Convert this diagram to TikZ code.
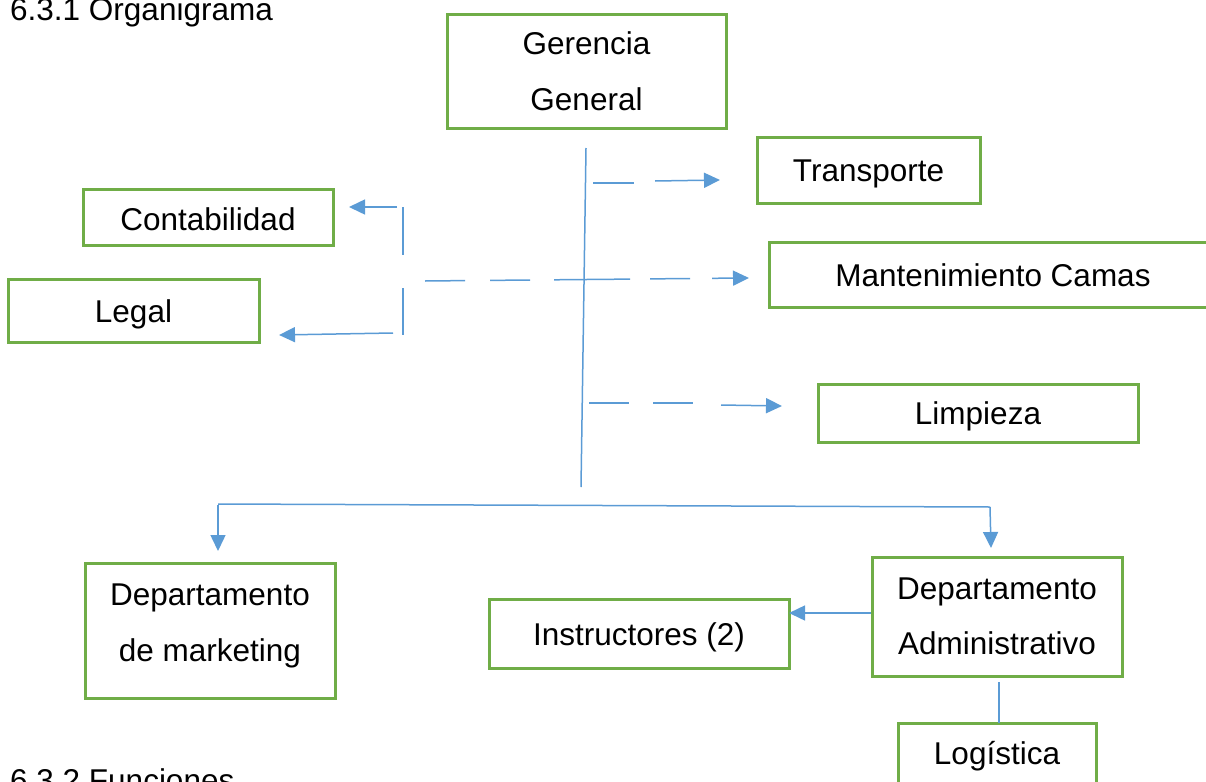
\documentclass[tikz,border=0pt]{standalone}
\usepackage{fontspec}
\setmainfont{Liberation Sans}
\usetikzlibrary{arrows.meta}
\definecolor{boxgreen}{HTML}{70AD47}
\definecolor{lineblue}{HTML}{5B9BD5}
\begin{document}
\begin{tikzpicture}[x=1pt,y=-1pt,
  every node/.style={font=\fontsize{31.5}{55.5}\selectfont},
  orgbox/.style={draw=boxgreen,line width=3pt,inner sep=0pt,align=center},
  oneline/.style={text height=23pt,text depth=0pt},
  conn/.style={draw=lineblue,line width=1.5pt},
  arr/.style={conn,-{Triangle[length=16pt,width=15pt]}}]
\useasboundingbox (0,0) rectangle (1206,781);
\clip (0,0) rectangle (1206,781);

% titles
\node[anchor=base west,inner sep=0pt] (t1) at (10,21) {6.3.1 Organigrama};
\node[anchor=base west,inner sep=0pt] (t2) at (10,791) {6.3.2 Funciones};

% boxes
\node[orgbox,minimum width=279pt,minimum height=113pt] (ger) at (586.5,71.5) {Gerencia\\[0.5pt]General};
\node[orgbox,oneline,minimum width=223pt,minimum height=66pt] (trans) at (868.5,170) {Transporte};
\node[orgbox,text height=27pt,text depth=0pt,minimum width=250pt,minimum height=56pt] (cont) at (208,217) {Contabilidad};
\node[orgbox,oneline,minimum width=448pt,minimum height=65pt] (mant) at (993,274.5) {Mantenimiento Camas};
\node[orgbox,oneline,minimum width=251pt,minimum height=63pt] (legal) at (133.5,310.5) {Legal};
\node[orgbox,oneline,minimum width=320pt,minimum height=58pt] (limp) at (978,413) {Limpieza};
\node[orgbox,minimum width=250pt,minimum height=135pt] (mkt) at (210,630.5) {Departamento\\de marketing\rule[-16pt]{0pt}{0pt}};
\node[orgbox,oneline,minimum width=300pt,minimum height=69pt] (instr) at (639,633.5) {Instructores (2)};
\node[orgbox,minimum width=250pt,minimum height=119pt] (adm) at (997,616.5) {Departamento\\Administrativo};
\node[orgbox,oneline,minimum width=198pt,minimum height=60pt] (log) at (997,753) {Logística};

% coordinates
\coordinate (trT) at (586,148);
\coordinate (trB) at (581,487);
% transporte
\coordinate (ta1) at (593,183); \coordinate (ta2) at (634,183);
\coordinate (ta3) at (655,181); \coordinate (ta4) at (720,180);
% mantenimiento
\coordinate (ma1) at (425,281); \coordinate (ma2) at (465,280.6);
\coordinate (ma3) at (490,280.4); \coordinate (ma4) at (530,280);
\coordinate (ma5) at (554,279.8); \coordinate (ma6) at (630,279.1);
\coordinate (ma7) at (650,278.9); \coordinate (ma8) at (690,278.5);
\coordinate (ma9) at (712,278.3); \coordinate (ma10) at (749,278);
% limpieza
\coordinate (li1) at (589,403); \coordinate (li2) at (629,403);
\coordinate (li3) at (653,403); \coordinate (li4) at (693,403);
\coordinate (li5) at (721,405); \coordinate (li6) at (782,406);
% bracket left
\coordinate (bv1) at (403,207); \coordinate (bv2) at (403,255);
\coordinate (bv3) at (403,288); \coordinate (bv4) at (403,335);
\coordinate (bc1) at (397,207); \coordinate (bc2) at (349,207);
\coordinate (bl1) at (393,333); \coordinate (bl2) at (279,335);
% bottom
\coordinate (hb1) at (218,504); \coordinate (hb2) at (990,507);
\coordinate (mk1) at (218,505); \coordinate (mk2) at (218,551);
\coordinate (ad1) at (990,507); \coordinate (ad2) at (991,548);
\coordinate (in1) at (871,613); \coordinate (in2) at (789,613);
\coordinate (lg1) at (999,682); \coordinate (lg2) at (999,723);

% connectors
\draw[conn] (trT) -- (trB);
\draw[conn] (ta1) -- (ta2);
\draw[arr] (ta3) -- (ta4);
\draw[conn] (ma1) -- (ma2);
\draw[conn] (ma3) -- (ma4);
\draw[conn] (ma5) -- (ma6);
\draw[conn] (ma7) -- (ma8);
\draw[arr] (ma9) -- (ma10);
\draw[conn] (li1) -- (li2);
\draw[conn] (li3) -- (li4);
\draw[arr] (li5) -- (li6);
\draw[conn] (bv1) -- (bv2);
\draw[conn] (bv3) -- (bv4);
\draw[arr] (bc1) -- (bc2);
\draw[arr] (bl1) -- (bl2);
\draw[conn] (hb1) -- (hb2);
\draw[arr] (mk1) -- (mk2);
\draw[arr] (ad1) -- (ad2);
\draw[arr] (in1) -- (in2);
\draw[conn] (lg1) -- (lg2);
\end{tikzpicture}
\end{document}
